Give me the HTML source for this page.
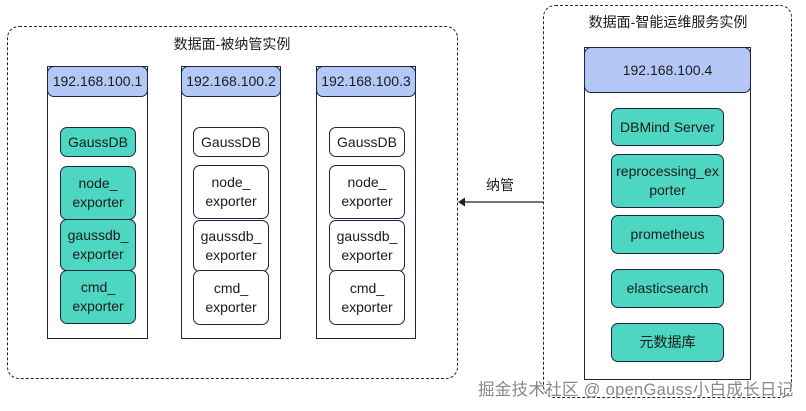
<!DOCTYPE html>
<html><head><meta charset="utf-8"><style>
body{margin:0;width:806px;height:411px;background:#fff;position:relative;overflow:hidden;font-family:"Liberation Sans","Noto Sans CJK SC",sans-serif;color:#1b1b1b}
.a{position:absolute;box-sizing:border-box}
.c{display:flex;align-items:center;justify-content:center;text-align:center;font-size:14px;line-height:19px}
.col{border:1.3px solid #1d2342;background:#fff}
.hd{background:#b4c8f8;border:1.3px solid #1d2342;border-radius:7px}
.t{background:#4dd6c2;border:1.3px solid #1d2342;border-radius:7px}
.w{background:#fff;border:1.3px solid #1d2342;border-radius:7px}
</style></head><body>
<div class="a" style="left:7px;top:26px;width:451px;height:353px;border:1.2px dashed #222;border-radius:12px"></div>
<div class="a" style="left:543px;top:5px;width:249px;height:393px;border:1.2px dashed #222;border-radius:12px"></div>
<div class="a c" style="left:132px;top:34px;width:200px;height:20px">数据面-被纳管实例</div>
<div class="a c" style="left:568px;top:12px;width:200px;height:20px">数据面-智能运维服务实例</div>

<div class="a col" style="left:47px;top:66px;width:101px;height:273px"></div>
<div class="a c hd" style="left:47px;top:66px;width:101px;height:31px">192.168.100.1</div>
<div class="a c t" style="left:60px;top:127px;width:76px;height:30px">GaussDB</div>
<div class="a c t" style="left:60px;top:166px;width:76px;height:54px">node_<br>exporter</div>
<div class="a c t" style="left:60px;top:219px;width:76px;height:52px">gaussdb_<br>exporter</div>
<div class="a c t" style="left:60px;top:270px;width:76px;height:54px">cmd_<br>exporter</div>

<div class="a col" style="left:181px;top:66px;width:100px;height:273px"></div>
<div class="a c hd" style="left:181px;top:66px;width:100px;height:31px">192.168.100.2</div>
<div class="a c w" style="left:193px;top:127px;width:76px;height:30px">GaussDB</div>
<div class="a c w" style="left:193px;top:165px;width:76px;height:54px">node_<br>exporter</div>
<div class="a c w" style="left:193px;top:220px;width:76px;height:52px">gaussdb_<br>exporter</div>
<div class="a c w" style="left:193px;top:270px;width:76px;height:55px">cmd_<br>exporter</div>

<div class="a col" style="left:316px;top:66px;width:100px;height:273px"></div>
<div class="a c hd" style="left:316px;top:66px;width:100px;height:31px">192.168.100.3</div>
<div class="a c w" style="left:329px;top:127px;width:76px;height:30px">GaussDB</div>
<div class="a c w" style="left:329px;top:165px;width:76px;height:54px">node_<br>exporter</div>
<div class="a c w" style="left:329px;top:220px;width:76px;height:52px">gaussdb_<br>exporter</div>
<div class="a c w" style="left:329px;top:270px;width:76px;height:55px">cmd_<br>exporter</div>

<div class="a col" style="left:584px;top:47px;width:167px;height:333px"></div>
<div class="a c hd" style="left:584px;top:47px;width:167px;height:46px">192.168.100.4</div>
<div class="a c t" style="left:611px;top:108px;width:113px;height:38px">DBMind Server</div>
<div class="a c t" style="left:611px;top:154px;width:113px;height:54px">reprocessing_ex<br>porter</div>
<div class="a c t" style="left:611px;top:215px;width:113px;height:39px">prometheus</div>
<div class="a c t" style="left:611px;top:269px;width:113px;height:39px">elasticsearch</div>
<div class="a c t" style="left:611px;top:323px;width:113px;height:39px">元数据库</div>

<svg class="a" style="left:0;top:0" width="806" height="411">
<line x1="543" y1="202" x2="464" y2="202" stroke="#222" stroke-width="1.2"/>
<polygon points="458,202 465,197.5 465,206.5" fill="#222"/>
</svg>
<div class="a c" style="left:480px;top:175px;width:40px;height:20px">纳管</div>
<div class="a" style="left:478px;top:376px;font-size:16.5px;letter-spacing:0.3px;color:#888;white-space:nowrap;text-shadow:0 0 1px #fff">掘金技术社区 @ openGauss小白成长日记</div>
</body></html>
